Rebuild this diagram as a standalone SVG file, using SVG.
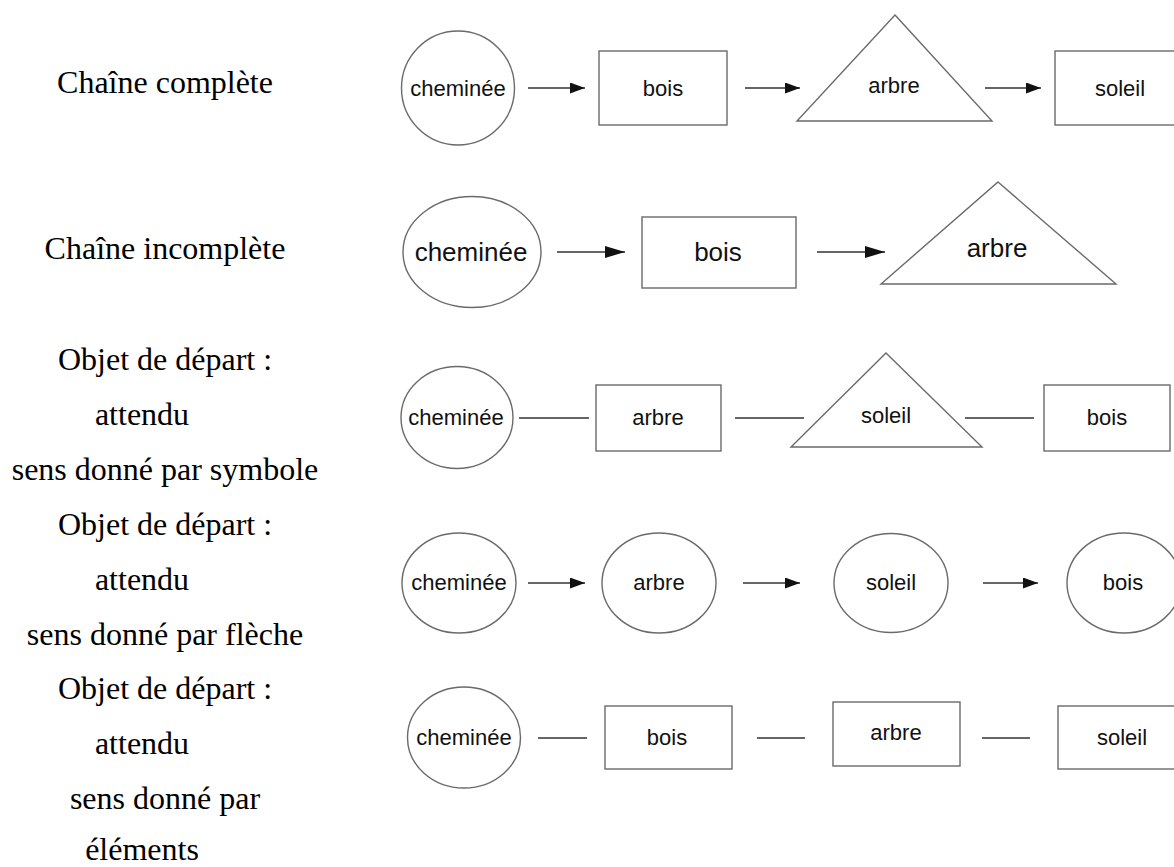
<svg xmlns="http://www.w3.org/2000/svg" width="1174" height="867" viewBox="0 0 1174 867">
<style>
.bg{fill:#ffffff}
.shape{fill:#ffffff;stroke:#6a6a6a;stroke-width:1.4}
.lbl{font-family:"Liberation Sans",Arial,sans-serif;font-size:22px;fill:#111;text-anchor:middle}
.big{font-size:26px}
.side{font-family:"Liberation Serif","Times New Roman",serif;font-size:32px;fill:#000;text-anchor:middle}
.conn{stroke:#333;stroke-width:1.6;fill:none}
.arr{marker-end:url(#ah)}
.arr2{marker-end:url(#ah2)}
</style>
<defs>
<marker id="ah" viewBox="0 0 15 11" refX="15" refY="5.5" markerWidth="15" markerHeight="11" markerUnits="userSpaceOnUse" orient="auto">
<path d="M0,0 L15,5.5 L0,11 z" fill="#111"/>
</marker>
<marker id="ah2" viewBox="0 0 20 12" refX="20" refY="6" markerWidth="20" markerHeight="12" markerUnits="userSpaceOnUse" orient="auto">
<path d="M0,0 L20,6 L0,12 z" fill="#111"/>
</marker>
</defs>
<rect class="bg" x="0" y="0" width="1174" height="867"/>

<g id="labels">
<text class="side" x="165" y="93">Chaîne complète</text>
<text class="side" x="165" y="259">Chaîne incomplète</text>
<text class="side" x="165" y="370">Objet de départ :</text>
<text class="side" x="142" y="425">attendu</text>
<text class="side" x="165" y="480">sens donné par symbole</text>
<text class="side" x="165" y="535">Objet de départ :</text>
<text class="side" x="142" y="590">attendu</text>
<text class="side" x="165" y="645">sens donné par flèche</text>
<text class="side" x="165" y="699">Objet de départ :</text>
<text class="side" x="142" y="754">attendu</text>
<text class="side" x="165" y="809">sens donné par</text>
<text class="side" x="142" y="860">éléments</text>
</g>

<g id="connectors">
<line class="conn arr" x1="528" y1="88" x2="585" y2="88"/>
<line class="conn arr" x1="745" y1="88" x2="800" y2="88"/>
<line class="conn arr" x1="985" y1="88" x2="1041" y2="88"/>
<line class="conn arr2" x1="557" y1="252" x2="625" y2="252"/>
<line class="conn arr2" x1="817" y1="252" x2="885" y2="252"/>
<line class="conn" x1="519" y1="418" x2="589" y2="418"/>
<line class="conn" x1="735" y1="418" x2="804" y2="418"/>
<line class="conn" x1="965" y1="418" x2="1034" y2="418"/>
<line class="conn arr" x1="528" y1="583" x2="585" y2="583"/>
<line class="conn arr" x1="743" y1="583" x2="800" y2="583"/>
<line class="conn arr" x1="983" y1="583" x2="1038" y2="583"/>
<line class="conn" x1="538" y1="738" x2="587" y2="738"/>
<line class="conn" x1="757" y1="738" x2="805" y2="738"/>
<line class="conn" x1="982" y1="738" x2="1030" y2="738"/>
</g>

<g id="r1-cheminee"><ellipse class="shape" cx="458" cy="88" rx="56.5" ry="57"/><text class="lbl" x="458" y="96">cheminée</text></g>
<g id="r1-bois"><rect class="shape" x="599" y="51" width="128" height="74"/><text class="lbl" x="663" y="96">bois</text></g>
<g id="r1-arbre"><polygon class="shape" points="895,15 992,121 797,121"/><text class="lbl" x="894" y="93">arbre</text></g>
<g id="r1-soleil"><rect class="shape" x="1055" y="51" width="130" height="74"/><text class="lbl" x="1120" y="96">soleil</text></g>

<g id="r2-cheminee"><ellipse class="shape" cx="472" cy="252" rx="69" ry="55.5"/><text class="lbl big" x="471" y="261">cheminée</text></g>
<g id="r2-bois"><rect class="shape" x="642" y="217" width="154" height="71"/><text class="lbl big" x="718" y="261">bois</text></g>
<g id="r2-arbre"><polygon class="shape" points="998,182 1116,284 881,284"/><text class="lbl big" x="997" y="257">arbre</text></g>

<g id="r3-cheminee"><ellipse class="shape" cx="457" cy="417.5" rx="56" ry="51"/><text class="lbl" x="456" y="425">cheminée</text></g>
<g id="r3-arbre"><rect class="shape" x="596" y="385" width="125" height="66"/><text class="lbl" x="658" y="425">arbre</text></g>
<g id="r3-soleil"><polygon class="shape" points="886,353 982,447 791,447"/><text class="lbl" x="886" y="423">soleil</text></g>
<g id="r3-bois"><rect class="shape" x="1044" y="385" width="126" height="66"/><text class="lbl" x="1107" y="425">bois</text></g>

<g id="r4-cheminee"><ellipse class="shape" cx="459" cy="583" rx="57" ry="50"/><text class="lbl" x="459" y="590">cheminée</text></g>
<g id="r4-arbre"><ellipse class="shape" cx="659" cy="583" rx="57" ry="50"/><text class="lbl" x="659" y="590">arbre</text></g>
<g id="r4-soleil"><ellipse class="shape" cx="891" cy="583" rx="57" ry="49.5"/><text class="lbl" x="891" y="590">soleil</text></g>
<g id="r4-bois"><ellipse class="shape" cx="1124" cy="583" rx="57" ry="50"/><text class="lbl" x="1123" y="590">bois</text></g>

<g id="r5-cheminee"><ellipse class="shape" cx="464" cy="737.5" rx="56.5" ry="50.5"/><text class="lbl" x="464" y="745">cheminée</text></g>
<g id="r5-bois"><rect class="shape" x="605" y="706" width="127" height="63"/><text class="lbl" x="667" y="745">bois</text></g>
<g id="r5-arbre"><rect class="shape" x="833" y="702" width="127" height="64"/><text class="lbl" x="896" y="740">arbre</text></g>
<g id="r5-soleil"><rect class="shape" x="1058" y="706" width="127" height="63"/><text class="lbl" x="1122" y="745">soleil</text></g>
</svg>
